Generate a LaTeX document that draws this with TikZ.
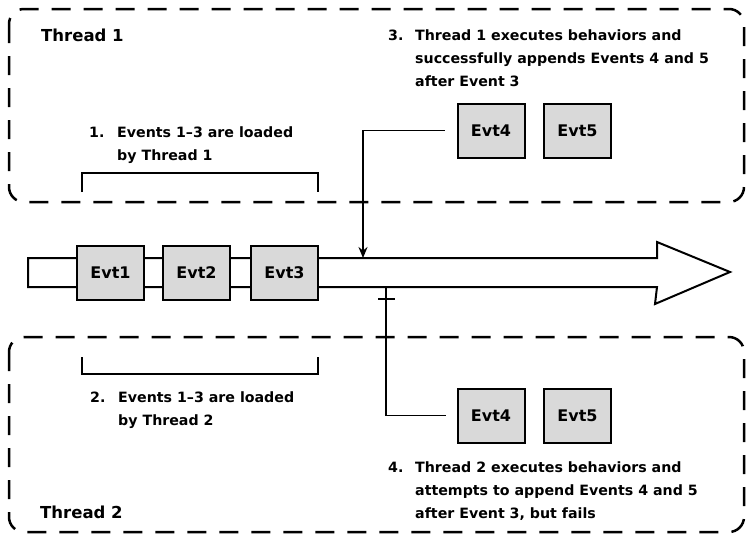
\documentclass[tikz,border=0pt]{standalone}
\usepackage{fontspec}
\setmainfont{DejaVu Sans}
\usetikzlibrary{arrows.meta}
\definecolor{evtgray}{HTML}{D9D9D9}
\tikzset{
  threadbox/.style={draw=black, line width=2.5pt, dash pattern=on 19pt off 13pt, rounded corners=15pt},
  evt/.style={draw=black, fill=evtgray, line width=2pt, minimum width=67pt, minimum height=54pt, inner sep=0pt, font=\fontsize{16}{18}\selectfont\bfseries},
  line/.style={draw=black, line width=1.8pt},
  item/.style={inner sep=0pt, anchor=base west, font=\fontsize{14.2}{23}\selectfont\bfseries, align=left},
  ttl/.style={inner sep=0pt, anchor=base west, font=\fontsize{16.5}{20}\selectfont\bfseries},
}
\begin{document}
\begin{tikzpicture}[x=1pt,y=-1pt]
\useasboundingbox (0,0) rectangle (747,536);
% thread boxes
\draw[threadbox] (9,9) rectangle (744,202);
\draw[threadbox] (9,337) rectangle (744,532);
% main arrow
\draw[line width=2pt, fill=white, line join=miter]
  (28,258) -- (657,258) -- (657,242) -- (730,272) -- (655,304) -- (657,287) -- (28,287) -- cycle;
% event boxes on timeline
\node[evt] (e1) at (110.5,273) {Evt1};
\node[evt] (e2) at (196.5,273) {Evt2};
\node[evt] (e3) at (284.5,273) {Evt3};
% thread 1 new events
\node[evt] (t1e4) at (491,130.5) {Evt4};
\node[evt] (t1e5) at (577.5,130.5) {Evt5};
% thread 2 new events
\node[evt] (t2e4) at (491,415.5) {Evt4};
\node[evt] (t2e5) at (577.5,415.5) {Evt5};
% connectors
\coordinate (hit) at (363,258);
\coordinate (miss) at (386,287);
\draw[line, -{Stealth[length=11pt,width=9pt]}] ([xshift=-12pt]t1e4.west) -| (hit);
\draw[line] (miss) |- ([xshift=-11pt]t2e4.west);
\draw[line] (378,299) -- (395,299);
% brackets
\draw[line] (82,192) -- (82,173) -- (318,173) -- (318,192);
\draw[line] (82,357) -- (82,374) -- (318,374) -- (318,357);
% titles
\node[ttl] (th1) at (41,41) {Thread 1};
\node[ttl] (th2) at (40,518) {Thread 2};
% items
\node[item] (i1) at (89,137) {\begin{tabular}[t]{@{}p{28pt}@{}l@{}}1. & Events 1–3 are loaded\\ & by Thread 1\end{tabular}};
\node[item] (i2) at (90,402) {\begin{tabular}[t]{@{}p{28pt}@{}l@{}}2. & Events 1–3 are loaded\\ & by Thread 2\end{tabular}};
\node[item] (i3) at (388,40) {\begin{tabular}[t]{@{}p{27pt}@{}l@{}}3. & Thread 1 executes behaviors and\\ & successfully appends Events 4 and 5\\ & after Event 3\end{tabular}};
\node[item] (i4) at (388,472) {\begin{tabular}[t]{@{}p{27pt}@{}l@{}}4. & Thread 2 executes behaviors and\\ & attempts to append Events 4 and 5\\ & after Event 3, but fails\end{tabular}};
\end{tikzpicture}
\end{document}
